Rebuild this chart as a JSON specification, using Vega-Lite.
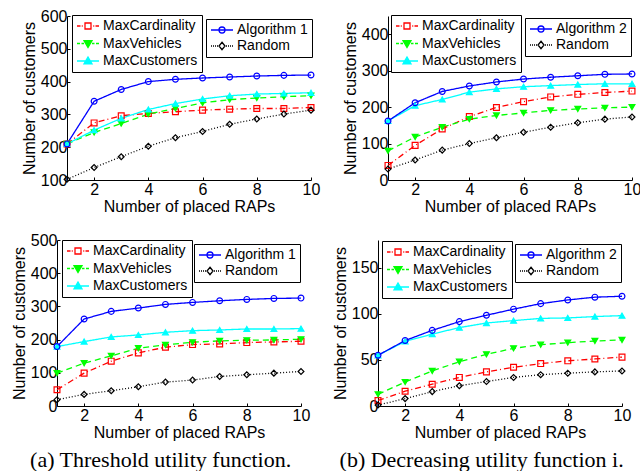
{
"$schema":"https://vega.github.io/schema/vega-lite/v6.json",
"background":"white",
"padding":{"left":11,"top":8,"right":0,"bottom":0},
"datasets":{"d":[
{"p":"a","s":"MaxCardinality","x":1,"y":210},{"p":"a","s":"MaxCardinality","x":2,"y":274},{"p":"a","s":"MaxCardinality","x":3,"y":296},{"p":"a","s":"MaxCardinality","x":4,"y":303},{"p":"a","s":"MaxCardinality","x":5,"y":308},{"p":"a","s":"MaxCardinality","x":6,"y":313},{"p":"a","s":"MaxCardinality","x":7,"y":316},{"p":"a","s":"MaxCardinality","x":8,"y":318},{"p":"a","s":"MaxCardinality","x":9,"y":318},{"p":"a","s":"MaxCardinality","x":10,"y":321},
{"p":"a","s":"MaxVehicles","x":1,"y":210},{"p":"a","s":"MaxVehicles","x":2,"y":245},{"p":"a","s":"MaxVehicles","x":3,"y":272},{"p":"a","s":"MaxVehicles","x":4,"y":301},{"p":"a","s":"MaxVehicles","x":5,"y":318},{"p":"a","s":"MaxVehicles","x":6,"y":335},{"p":"a","s":"MaxVehicles","x":7,"y":345},{"p":"a","s":"MaxVehicles","x":8,"y":350},{"p":"a","s":"MaxVehicles","x":9,"y":354},{"p":"a","s":"MaxVehicles","x":10,"y":357},
{"p":"a","s":"MaxCustomers","x":1,"y":210},{"p":"a","s":"MaxCustomers","x":2,"y":252},{"p":"a","s":"MaxCustomers","x":3,"y":288},{"p":"a","s":"MaxCustomers","x":4,"y":315},{"p":"a","s":"MaxCustomers","x":5,"y":333},{"p":"a","s":"MaxCustomers","x":6,"y":347},{"p":"a","s":"MaxCustomers","x":7,"y":357},{"p":"a","s":"MaxCustomers","x":8,"y":362},{"p":"a","s":"MaxCustomers","x":9,"y":364},{"p":"a","s":"MaxCustomers","x":10,"y":366},
{"p":"a","s":"Algorithm 1","x":1,"y":210},{"p":"a","s":"Algorithm 1","x":2,"y":340},{"p":"a","s":"Algorithm 1","x":3,"y":376},{"p":"a","s":"Algorithm 1","x":4,"y":400},{"p":"a","s":"Algorithm 1","x":5,"y":407},{"p":"a","s":"Algorithm 1","x":6,"y":411},{"p":"a","s":"Algorithm 1","x":7,"y":414},{"p":"a","s":"Algorithm 1","x":8,"y":417},{"p":"a","s":"Algorithm 1","x":9,"y":419},{"p":"a","s":"Algorithm 1","x":10,"y":420},
{"p":"a","s":"Random","x":1,"y":102},{"p":"a","s":"Random","x":2,"y":138},{"p":"a","s":"Random","x":3,"y":171},{"p":"a","s":"Random","x":4,"y":203},{"p":"a","s":"Random","x":5,"y":229},{"p":"a","s":"Random","x":6,"y":248},{"p":"a","s":"Random","x":7,"y":270},{"p":"a","s":"Random","x":8,"y":286},{"p":"a","s":"Random","x":9,"y":301},{"p":"a","s":"Random","x":10,"y":313},
{"p":"b","s":"MaxCardinality","x":1,"y":40},{"p":"b","s":"MaxCardinality","x":2,"y":95},{"p":"b","s":"MaxCardinality","x":3,"y":140},{"p":"b","s":"MaxCardinality","x":4,"y":174},{"p":"b","s":"MaxCardinality","x":5,"y":199},{"p":"b","s":"MaxCardinality","x":6,"y":215},{"p":"b","s":"MaxCardinality","x":7,"y":228},{"p":"b","s":"MaxCardinality","x":8,"y":235},{"p":"b","s":"MaxCardinality","x":9,"y":240},{"p":"b","s":"MaxCardinality","x":10,"y":244},
{"p":"b","s":"MaxVehicles","x":1,"y":80},{"p":"b","s":"MaxVehicles","x":2,"y":118},{"p":"b","s":"MaxVehicles","x":3,"y":145},{"p":"b","s":"MaxVehicles","x":4,"y":167},{"p":"b","s":"MaxVehicles","x":5,"y":177},{"p":"b","s":"MaxVehicles","x":6,"y":184},{"p":"b","s":"MaxVehicles","x":7,"y":191},{"p":"b","s":"MaxVehicles","x":8,"y":195},{"p":"b","s":"MaxVehicles","x":9,"y":198},{"p":"b","s":"MaxVehicles","x":10,"y":200},
{"p":"b","s":"MaxCustomers","x":1,"y":162},{"p":"b","s":"MaxCustomers","x":2,"y":204},{"p":"b","s":"MaxCustomers","x":3,"y":221},{"p":"b","s":"MaxCustomers","x":4,"y":241},{"p":"b","s":"MaxCustomers","x":5,"y":250},{"p":"b","s":"MaxCustomers","x":6,"y":256},{"p":"b","s":"MaxCustomers","x":7,"y":259},{"p":"b","s":"MaxCustomers","x":8,"y":262},{"p":"b","s":"MaxCustomers","x":9,"y":264},{"p":"b","s":"MaxCustomers","x":10,"y":264},
{"p":"b","s":"Algorithm 2","x":1,"y":162},{"p":"b","s":"Algorithm 2","x":2,"y":212},{"p":"b","s":"Algorithm 2","x":3,"y":243},{"p":"b","s":"Algorithm 2","x":4,"y":258},{"p":"b","s":"Algorithm 2","x":5,"y":269},{"p":"b","s":"Algorithm 2","x":6,"y":277},{"p":"b","s":"Algorithm 2","x":7,"y":282},{"p":"b","s":"Algorithm 2","x":8,"y":286},{"p":"b","s":"Algorithm 2","x":9,"y":290},{"p":"b","s":"Algorithm 2","x":10,"y":291},
{"p":"b","s":"Random","x":1,"y":30},{"p":"b","s":"Random","x":2,"y":55},{"p":"b","s":"Random","x":3,"y":82},{"p":"b","s":"Random","x":4,"y":100},{"p":"b","s":"Random","x":5,"y":116},{"p":"b","s":"Random","x":6,"y":131},{"p":"b","s":"Random","x":7,"y":145},{"p":"b","s":"Random","x":8,"y":157},{"p":"b","s":"Random","x":9,"y":167},{"p":"b","s":"Random","x":10,"y":173},
{"p":"c","s":"MaxCardinality","x":1,"y":49},{"p":"c","s":"MaxCardinality","x":2,"y":99},{"p":"c","s":"MaxCardinality","x":3,"y":135},{"p":"c","s":"MaxCardinality","x":4,"y":160},{"p":"c","s":"MaxCardinality","x":5,"y":177},{"p":"c","s":"MaxCardinality","x":6,"y":185},{"p":"c","s":"MaxCardinality","x":7,"y":187},{"p":"c","s":"MaxCardinality","x":8,"y":191},{"p":"c","s":"MaxCardinality","x":9,"y":193},{"p":"c","s":"MaxCardinality","x":10,"y":195},
{"p":"c","s":"MaxVehicles","x":1,"y":99},{"p":"c","s":"MaxVehicles","x":2,"y":129},{"p":"c","s":"MaxVehicles","x":3,"y":151},{"p":"c","s":"MaxVehicles","x":4,"y":174},{"p":"c","s":"MaxVehicles","x":5,"y":184},{"p":"c","s":"MaxVehicles","x":6,"y":192},{"p":"c","s":"MaxVehicles","x":7,"y":196},{"p":"c","s":"MaxVehicles","x":8,"y":198},{"p":"c","s":"MaxVehicles","x":9,"y":199},{"p":"c","s":"MaxVehicles","x":10,"y":201},
{"p":"c","s":"MaxCustomers","x":1,"y":179},{"p":"c","s":"MaxCustomers","x":2,"y":194},{"p":"c","s":"MaxCustomers","x":3,"y":208},{"p":"c","s":"MaxCustomers","x":4,"y":214},{"p":"c","s":"MaxCustomers","x":5,"y":222},{"p":"c","s":"MaxCustomers","x":6,"y":227},{"p":"c","s":"MaxCustomers","x":7,"y":229},{"p":"c","s":"MaxCustomers","x":8,"y":232},{"p":"c","s":"MaxCustomers","x":9,"y":232},{"p":"c","s":"MaxCustomers","x":10,"y":233},
{"p":"c","s":"Algorithm 1","x":1,"y":179},{"p":"c","s":"Algorithm 1","x":2,"y":262},{"p":"c","s":"Algorithm 1","x":3,"y":285},{"p":"c","s":"Algorithm 1","x":4,"y":295},{"p":"c","s":"Algorithm 1","x":5,"y":306},{"p":"c","s":"Algorithm 1","x":6,"y":312},{"p":"c","s":"Algorithm 1","x":7,"y":317},{"p":"c","s":"Algorithm 1","x":8,"y":321},{"p":"c","s":"Algorithm 1","x":9,"y":324},{"p":"c","s":"Algorithm 1","x":10,"y":325},
{"p":"c","s":"Random","x":1,"y":19},{"p":"c","s":"Random","x":2,"y":35},{"p":"c","s":"Random","x":3,"y":46},{"p":"c","s":"Random","x":4,"y":58},{"p":"c","s":"Random","x":5,"y":72},{"p":"c","s":"Random","x":6,"y":78},{"p":"c","s":"Random","x":7,"y":89},{"p":"c","s":"Random","x":8,"y":94},{"p":"c","s":"Random","x":9,"y":99},{"p":"c","s":"Random","x":10,"y":104},
{"p":"d","s":"MaxCardinality","x":1,"y":6},{"p":"d","s":"MaxCardinality","x":2,"y":16},{"p":"d","s":"MaxCardinality","x":3,"y":23.6},{"p":"d","s":"MaxCardinality","x":4,"y":31},{"p":"d","s":"MaxCardinality","x":5,"y":37},{"p":"d","s":"MaxCardinality","x":6,"y":42},{"p":"d","s":"MaxCardinality","x":7,"y":46},{"p":"d","s":"MaxCardinality","x":8,"y":49},{"p":"d","s":"MaxCardinality","x":9,"y":51},{"p":"d","s":"MaxCardinality","x":10,"y":53},
{"p":"d","s":"MaxVehicles","x":1,"y":12.7},{"p":"d","s":"MaxVehicles","x":2,"y":26},{"p":"d","s":"MaxVehicles","x":3,"y":38},{"p":"d","s":"MaxVehicles","x":4,"y":48},{"p":"d","s":"MaxVehicles","x":5,"y":56},{"p":"d","s":"MaxVehicles","x":6,"y":62.5},{"p":"d","s":"MaxVehicles","x":7,"y":66.5},{"p":"d","s":"MaxVehicles","x":8,"y":68.7},{"p":"d","s":"MaxVehicles","x":9,"y":70.5},{"p":"d","s":"MaxVehicles","x":10,"y":71.6},
{"p":"d","s":"MaxCustomers","x":1,"y":55},{"p":"d","s":"MaxCustomers","x":2,"y":70},{"p":"d","s":"MaxCustomers","x":3,"y":78},{"p":"d","s":"MaxCustomers","x":4,"y":85},{"p":"d","s":"MaxCustomers","x":5,"y":90},{"p":"d","s":"MaxCustomers","x":6,"y":92.6},{"p":"d","s":"MaxCustomers","x":7,"y":95},{"p":"d","s":"MaxCustomers","x":8,"y":95.5},{"p":"d","s":"MaxCustomers","x":9,"y":97},{"p":"d","s":"MaxCustomers","x":10,"y":98},
{"p":"d","s":"Algorithm 2","x":1,"y":55},{"p":"d","s":"Algorithm 2","x":2,"y":71},{"p":"d","s":"Algorithm 2","x":3,"y":82},{"p":"d","s":"Algorithm 2","x":4,"y":91.5},{"p":"d","s":"Algorithm 2","x":5,"y":98.4},{"p":"d","s":"Algorithm 2","x":6,"y":105},{"p":"d","s":"Algorithm 2","x":7,"y":111},{"p":"d","s":"Algorithm 2","x":8,"y":115},{"p":"d","s":"Algorithm 2","x":9,"y":118},{"p":"d","s":"Algorithm 2","x":10,"y":119},
{"p":"d","s":"Random","x":1,"y":1},{"p":"d","s":"Random","x":2,"y":8},{"p":"d","s":"Random","x":3,"y":15.6},{"p":"d","s":"Random","x":4,"y":22},{"p":"d","s":"Random","x":5,"y":26.5},{"p":"d","s":"Random","x":6,"y":31},{"p":"d","s":"Random","x":7,"y":34},{"p":"d","s":"Random","x":8,"y":35.6},{"p":"d","s":"Random","x":9,"y":37},{"p":"d","s":"Random","x":10,"y":38}
]},
"data":{"name":"d"},
"spacing":18,
"vconcat":[
{"spacing":-53,"hconcat":[
{"width":10,"height":10,"transform":[{"filter":"datum.x < 0"}],"mark":{"type":"point"},"encoding":{}},
{"spacing":22,"hconcat":[
{"width":244,"height":164,
 "transform":[{"filter":"datum.p === 'a'"}],
 "encoding":{
  "x":{"field":"x","type":"quantitative","scale":{"domain":[1,10],"nice":false,"zero":false},"axis":{"values":[2,4,6,8,10],"title":"Number of placed RAPs"}},
  "y":{"field":"y","type":"quantitative","scale":{"domain":[100,600],"nice":false,"zero":false},"axis":{"values":[100,200,300,400,500,600],"title":"Number of customers"}}},
 "layer":[
  {"mark":{"type":"line","strokeWidth":1.3},
   "encoding":{
    "stroke":{"field":"s","type":"nominal","scale":{"domain":["MaxCardinality","MaxVehicles","MaxCustomers","Algorithm 1","Random"],"range":["#ff0000","#00ff00","#00ffff","#0000ff","#000000"]},"legend":null},
    "strokeDash":{"field":"s","type":"nominal","scale":{"domain":["MaxCardinality","MaxVehicles","MaxCustomers","Algorithm 1","Random"],"range":[[6,3,1,3],[6,4],[1,0],[1,0],[1,2]]},"legend":null}}},
  {"mark":{"type":"point","size":34,"strokeWidth":1.2,"opacity":1},
   "encoding":{
    "stroke":{"field":"s","type":"nominal","scale":{"domain":["MaxCardinality","MaxVehicles","MaxCustomers","Algorithm 1","Random"],"range":["#ff0000","#00ff00","#00ffff","#0000ff","#000000"]},"legend":null},
    "fill":{"field":"s","type":"nominal","scale":{"domain":["MaxCardinality","MaxVehicles","MaxCustomers","Algorithm 1","Random"],"range":["transparent","#00ff00","#00ffff","transparent","transparent"]},"legend":null},
    "shape":{"field":"s","type":"nominal","scale":{"domain":["MaxCardinality","MaxVehicles","MaxCustomers","Algorithm 1","Random"],"range":["square","triangle-down","triangle-up","circle","diamond"]},"legend":null}}},
  {"transform":[{"filter":"datum.x < 0"}],
   "mark":{"type":"point","opacity":1},
   "encoding":{
    "stroke":{"field":"s","type":"nominal","scale":{"domain":["MaxCardinality","MaxVehicles","MaxCustomers"],"range":["#ff0000","#00ff00","#00ffff"]},"legend":{"orient":"none","legendX":5,"legendY":-1,"rowPadding":3.5,"title":null,"padding":4,"symbolSize":100,"symbolOffset":5,"labelOffset":8,"labelFont":"Liberation Sans","labelFontSize":14,"labelColor":"#000","symbolStrokeWidth":1.3,"strokeColor":"#000","fillColor":"#fff"}},
    "fill":{"field":"s","type":"nominal","scale":{"domain":["MaxCardinality","MaxVehicles","MaxCustomers"],"range":["transparent","#00ff00","#00ffff"]},"legend":{"orient":"none","legendX":5,"legendY":-1,"rowPadding":3.5,"title":null,"padding":4,"symbolSize":100,"symbolOffset":5,"labelOffset":8,"labelFont":"Liberation Sans","labelFontSize":14,"labelColor":"#000","symbolStrokeWidth":1.3,"strokeColor":"#000","fillColor":"#fff"}},
    "shape":{"field":"s","type":"nominal","scale":{"domain":["MaxCardinality","MaxVehicles","MaxCustomers"],"range":["M-2.2,0H-1.5M-1.25,0H-1.05M1.05,0H1.25M1.5,0H2.2M-0.6,-0.6H0.6V0.6H-0.6Z","M-2.2,0H-1.6M-1.3,0H-0.8M0.8,0H1.3M1.6,0H2.2M-0.8,-0.55H0.8L0,0.8Z","M-2.2,0H2.2M-0.8,0.55H0.8L0,-0.8Z"]},"legend":{"orient":"none","legendX":5,"legendY":-1,"rowPadding":3.5,"title":null,"padding":4,"symbolSize":100,"symbolOffset":5,"labelOffset":8,"labelFont":"Liberation Sans","labelFontSize":14,"labelColor":"#000","symbolStrokeWidth":1.3,"strokeColor":"#000","fillColor":"#fff"}}}},
  {"transform":[{"filter":"datum.x < 0"}],
   "mark":{"type":"point","opacity":1},
   "encoding":{
    "stroke":{"field":"s","type":"nominal","scale":{"domain":["Algorithm 1","Random"],"range":["#0000ff","#000000"]},"legend":{"orient":"none","legendX":139,"legendY":3,"rowPadding":2,"title":null,"padding":4,"symbolSize":100,"symbolOffset":5,"labelOffset":8,"labelFont":"Liberation Sans","labelFontSize":14,"labelColor":"#000","symbolStrokeWidth":1.3,"strokeColor":"#000","fillColor":"#fff"}},
    "fill":{"field":"s","type":"nominal","scale":{"domain":["Algorithm 1","Random"],"range":["transparent","transparent"]},"legend":{"orient":"none","legendX":139,"legendY":3,"rowPadding":2,"title":null,"padding":4,"symbolSize":100,"symbolOffset":5,"labelOffset":8,"labelFont":"Liberation Sans","labelFontSize":14,"labelColor":"#000","symbolStrokeWidth":1.3,"strokeColor":"#000","fillColor":"#fff"}},
    "shape":{"field":"s","type":"nominal","scale":{"domain":["Algorithm 1","Random"],"range":["M-2.2,0H2.2M-0.6,0A0.6,0.6,0,1,0,0.6,0A0.6,0.6,0,1,0,-0.6,0Z","M-2.2,0H-2M-1.8,0H-1.6M-1.4,0H-1.2M-1,0H-0.8M0.8,0H1M1.2,0H1.4M1.6,0H1.8M2,0H2.2M0,-0.75L0.6,0L0,0.75L-0.6,0Z"]},"legend":{"orient":"none","legendX":139,"legendY":3,"rowPadding":2,"title":null,"padding":4,"symbolSize":100,"symbolOffset":5,"labelOffset":8,"labelFont":"Liberation Sans","labelFontSize":14,"labelColor":"#000","symbolStrokeWidth":1.3,"strokeColor":"#000","fillColor":"#fff"}}}}
 ],
 "resolve":{"scale":{"stroke":"independent","fill":"independent","shape":"independent","strokeDash":"independent"}}},
{"width":244,"height":164,
 "transform":[{"filter":"datum.p === 'b'"}],
 "encoding":{
  "x":{"field":"x","type":"quantitative","scale":{"domain":[1,10],"nice":false,"zero":false},"axis":{"values":[2,4,6,8,10],"title":"Number of placed RAPs"}},
  "y":{"field":"y","type":"quantitative","scale":{"domain":[0,450],"nice":false,"zero":false},"axis":{"values":[0,100,200,300,400],"title":"Number of customers"}}},
 "layer":[
  {"mark":{"type":"line","strokeWidth":1.3},
   "encoding":{
    "stroke":{"field":"s","type":"nominal","scale":{"domain":["MaxCardinality","MaxVehicles","MaxCustomers","Algorithm 2","Random"],"range":["#ff0000","#00ff00","#00ffff","#0000ff","#000000"]},"legend":null},
    "strokeDash":{"field":"s","type":"nominal","scale":{"domain":["MaxCardinality","MaxVehicles","MaxCustomers","Algorithm 2","Random"],"range":[[6,3,1,3],[6,4],[1,0],[1,0],[1,2]]},"legend":null}}},
  {"mark":{"type":"point","size":34,"strokeWidth":1.2,"opacity":1},
   "encoding":{
    "stroke":{"field":"s","type":"nominal","scale":{"domain":["MaxCardinality","MaxVehicles","MaxCustomers","Algorithm 2","Random"],"range":["#ff0000","#00ff00","#00ffff","#0000ff","#000000"]},"legend":null},
    "fill":{"field":"s","type":"nominal","scale":{"domain":["MaxCardinality","MaxVehicles","MaxCustomers","Algorithm 2","Random"],"range":["transparent","#00ff00","#00ffff","transparent","transparent"]},"legend":null},
    "shape":{"field":"s","type":"nominal","scale":{"domain":["MaxCardinality","MaxVehicles","MaxCustomers","Algorithm 2","Random"],"range":["square","triangle-down","triangle-up","circle","diamond"]},"legend":null}}},
  {"transform":[{"filter":"datum.x < 0"}],
   "mark":{"type":"point","opacity":1},
   "encoding":{
    "stroke":{"field":"s","type":"nominal","scale":{"domain":["MaxCardinality","MaxVehicles","MaxCustomers"],"range":["#ff0000","#00ff00","#00ffff"]},"legend":{"orient":"none","legendX":3,"legendY":-1,"rowPadding":3.5,"title":null,"padding":4,"symbolSize":100,"symbolOffset":5,"labelOffset":8,"labelFont":"Liberation Sans","labelFontSize":14,"labelColor":"#000","symbolStrokeWidth":1.3,"strokeColor":"#000","fillColor":"#fff"}},
    "fill":{"field":"s","type":"nominal","scale":{"domain":["MaxCardinality","MaxVehicles","MaxCustomers"],"range":["transparent","#00ff00","#00ffff"]},"legend":{"orient":"none","legendX":3,"legendY":-1,"rowPadding":3.5,"title":null,"padding":4,"symbolSize":100,"symbolOffset":5,"labelOffset":8,"labelFont":"Liberation Sans","labelFontSize":14,"labelColor":"#000","symbolStrokeWidth":1.3,"strokeColor":"#000","fillColor":"#fff"}},
    "shape":{"field":"s","type":"nominal","scale":{"domain":["MaxCardinality","MaxVehicles","MaxCustomers"],"range":["M-2.2,0H-1.5M-1.25,0H-1.05M1.05,0H1.25M1.5,0H2.2M-0.6,-0.6H0.6V0.6H-0.6Z","M-2.2,0H-1.6M-1.3,0H-0.8M0.8,0H1.3M1.6,0H2.2M-0.8,-0.55H0.8L0,0.8Z","M-2.2,0H2.2M-0.8,0.55H0.8L0,-0.8Z"]},"legend":{"orient":"none","legendX":3,"legendY":-1,"rowPadding":3.5,"title":null,"padding":4,"symbolSize":100,"symbolOffset":5,"labelOffset":8,"labelFont":"Liberation Sans","labelFontSize":14,"labelColor":"#000","symbolStrokeWidth":1.3,"strokeColor":"#000","fillColor":"#fff"}}}},
  {"transform":[{"filter":"datum.x < 0"}],
   "mark":{"type":"point","opacity":1},
   "encoding":{
    "stroke":{"field":"s","type":"nominal","scale":{"domain":["Algorithm 2","Random"],"range":["#0000ff","#000000"]},"legend":{"orient":"none","legendX":137,"legendY":2,"rowPadding":2,"title":null,"padding":4,"symbolSize":100,"symbolOffset":5,"labelOffset":8,"labelFont":"Liberation Sans","labelFontSize":14,"labelColor":"#000","symbolStrokeWidth":1.3,"strokeColor":"#000","fillColor":"#fff"}},
    "fill":{"field":"s","type":"nominal","scale":{"domain":["Algorithm 2","Random"],"range":["transparent","transparent"]},"legend":{"orient":"none","legendX":137,"legendY":2,"rowPadding":2,"title":null,"padding":4,"symbolSize":100,"symbolOffset":5,"labelOffset":8,"labelFont":"Liberation Sans","labelFontSize":14,"labelColor":"#000","symbolStrokeWidth":1.3,"strokeColor":"#000","fillColor":"#fff"}},
    "shape":{"field":"s","type":"nominal","scale":{"domain":["Algorithm 2","Random"],"range":["M-2.2,0H2.2M-0.6,0A0.6,0.6,0,1,0,0.6,0A0.6,0.6,0,1,0,-0.6,0Z","M-2.2,0H-2M-1.8,0H-1.6M-1.4,0H-1.2M-1,0H-0.8M0.8,0H1M1.2,0H1.4M1.6,0H1.8M2,0H2.2M0,-0.75L0.6,0L0,0.75L-0.6,0Z"]},"legend":{"orient":"none","legendX":137,"legendY":2,"rowPadding":2,"title":null,"padding":4,"symbolSize":100,"symbolOffset":5,"labelOffset":8,"labelFont":"Liberation Sans","labelFontSize":14,"labelColor":"#000","symbolStrokeWidth":1.3,"strokeColor":"#000","fillColor":"#fff"}}}}
 ],
 "resolve":{"scale":{"stroke":"independent","fill":"independent","shape":"independent","strokeDash":"independent"}}}
]}]},
{"spacing":22,"hconcat":[
{"width":244,"height":166,
 "title":{"text":"(a) Threshold utility function.","orient":"bottom","anchor":"middle","frame":"bounds"},
 "transform":[{"filter":"datum.p === 'c'"}],
 "encoding":{
  "x":{"field":"x","type":"quantitative","scale":{"domain":[1,10],"nice":false,"zero":false},"axis":{"values":[2,4,6,8,10],"title":"Number of placed RAPs"}},
  "y":{"field":"y","type":"quantitative","scale":{"domain":[0,500],"nice":false,"zero":false},"axis":{"values":[0,100,200,300,400,500],"title":"Number of customers"}}},
 "layer":[
  {"mark":{"type":"line","strokeWidth":1.3},
   "encoding":{
    "stroke":{"field":"s","type":"nominal","scale":{"domain":["MaxCardinality","MaxVehicles","MaxCustomers","Algorithm 1","Random"],"range":["#ff0000","#00ff00","#00ffff","#0000ff","#000000"]},"legend":null},
    "strokeDash":{"field":"s","type":"nominal","scale":{"domain":["MaxCardinality","MaxVehicles","MaxCustomers","Algorithm 1","Random"],"range":[[6,3,1,3],[6,4],[1,0],[1,0],[1,2]]},"legend":null}}},
  {"mark":{"type":"point","size":34,"strokeWidth":1.2,"opacity":1},
   "encoding":{
    "stroke":{"field":"s","type":"nominal","scale":{"domain":["MaxCardinality","MaxVehicles","MaxCustomers","Algorithm 1","Random"],"range":["#ff0000","#00ff00","#00ffff","#0000ff","#000000"]},"legend":null},
    "fill":{"field":"s","type":"nominal","scale":{"domain":["MaxCardinality","MaxVehicles","MaxCustomers","Algorithm 1","Random"],"range":["transparent","#00ff00","#00ffff","transparent","transparent"]},"legend":null},
    "shape":{"field":"s","type":"nominal","scale":{"domain":["MaxCardinality","MaxVehicles","MaxCustomers","Algorithm 1","Random"],"range":["square","triangle-down","triangle-up","circle","diamond"]},"legend":null}}},
  {"transform":[{"filter":"datum.x < 0"}],
   "mark":{"type":"point","opacity":1},
   "encoding":{
    "stroke":{"field":"s","type":"nominal","scale":{"domain":["MaxCardinality","MaxVehicles","MaxCustomers"],"range":["#ff0000","#00ff00","#00ffff"]},"legend":{"orient":"none","legendX":5,"legendY":0,"rowPadding":3.5,"title":null,"padding":4,"symbolSize":100,"symbolOffset":5,"labelOffset":8,"labelFont":"Liberation Sans","labelFontSize":14,"labelColor":"#000","symbolStrokeWidth":1.3,"strokeColor":"#000","fillColor":"#fff"}},
    "fill":{"field":"s","type":"nominal","scale":{"domain":["MaxCardinality","MaxVehicles","MaxCustomers"],"range":["transparent","#00ff00","#00ffff"]},"legend":{"orient":"none","legendX":5,"legendY":0,"rowPadding":3.5,"title":null,"padding":4,"symbolSize":100,"symbolOffset":5,"labelOffset":8,"labelFont":"Liberation Sans","labelFontSize":14,"labelColor":"#000","symbolStrokeWidth":1.3,"strokeColor":"#000","fillColor":"#fff"}},
    "shape":{"field":"s","type":"nominal","scale":{"domain":["MaxCardinality","MaxVehicles","MaxCustomers"],"range":["M-2.2,0H-1.5M-1.25,0H-1.05M1.05,0H1.25M1.5,0H2.2M-0.6,-0.6H0.6V0.6H-0.6Z","M-2.2,0H-1.6M-1.3,0H-0.8M0.8,0H1.3M1.6,0H2.2M-0.8,-0.55H0.8L0,0.8Z","M-2.2,0H2.2M-0.8,0.55H0.8L0,-0.8Z"]},"legend":{"orient":"none","legendX":5,"legendY":0,"rowPadding":3.5,"title":null,"padding":4,"symbolSize":100,"symbolOffset":5,"labelOffset":8,"labelFont":"Liberation Sans","labelFontSize":14,"labelColor":"#000","symbolStrokeWidth":1.3,"strokeColor":"#000","fillColor":"#fff"}}}},
  {"transform":[{"filter":"datum.x < 0"}],
   "mark":{"type":"point","opacity":1},
   "encoding":{
    "stroke":{"field":"s","type":"nominal","scale":{"domain":["Algorithm 1","Random"],"range":["#0000ff","#000000"]},"legend":{"orient":"none","legendX":137,"legendY":4,"rowPadding":2,"title":null,"padding":4,"symbolSize":100,"symbolOffset":5,"labelOffset":8,"labelFont":"Liberation Sans","labelFontSize":14,"labelColor":"#000","symbolStrokeWidth":1.3,"strokeColor":"#000","fillColor":"#fff"}},
    "fill":{"field":"s","type":"nominal","scale":{"domain":["Algorithm 1","Random"],"range":["transparent","transparent"]},"legend":{"orient":"none","legendX":137,"legendY":4,"rowPadding":2,"title":null,"padding":4,"symbolSize":100,"symbolOffset":5,"labelOffset":8,"labelFont":"Liberation Sans","labelFontSize":14,"labelColor":"#000","symbolStrokeWidth":1.3,"strokeColor":"#000","fillColor":"#fff"}},
    "shape":{"field":"s","type":"nominal","scale":{"domain":["Algorithm 1","Random"],"range":["M-2.2,0H2.2M-0.6,0A0.6,0.6,0,1,0,0.6,0A0.6,0.6,0,1,0,-0.6,0Z","M-2.2,0H-2M-1.8,0H-1.6M-1.4,0H-1.2M-1,0H-0.8M0.8,0H1M1.2,0H1.4M1.6,0H1.8M2,0H2.2M0,-0.75L0.6,0L0,0.75L-0.6,0Z"]},"legend":{"orient":"none","legendX":137,"legendY":4,"rowPadding":2,"title":null,"padding":4,"symbolSize":100,"symbolOffset":5,"labelOffset":8,"labelFont":"Liberation Sans","labelFontSize":14,"labelColor":"#000","symbolStrokeWidth":1.3,"strokeColor":"#000","fillColor":"#fff"}}}}
 ],
 "resolve":{"scale":{"stroke":"independent","fill":"independent","shape":"independent","strokeDash":"independent"}}},
{"width":244,"height":166,
 "title":{"text":"(b) Decreasing utility function i.","orient":"bottom","anchor":"middle","frame":"bounds"},
 "transform":[{"filter":"datum.p === 'd'"}],
 "encoding":{
  "x":{"field":"x","type":"quantitative","scale":{"domain":[1,10],"nice":false,"zero":false},"axis":{"values":[2,4,6,8,10],"title":"Number of placed RAPs"}},
  "y":{"field":"y","type":"quantitative","scale":{"domain":[0,180],"nice":false,"zero":false},"axis":{"values":[0,50,100,150],"title":"Number of customers"}}},
 "layer":[
  {"mark":{"type":"line","strokeWidth":1.3},
   "encoding":{
    "stroke":{"field":"s","type":"nominal","scale":{"domain":["MaxCardinality","MaxVehicles","MaxCustomers","Algorithm 2","Random"],"range":["#ff0000","#00ff00","#00ffff","#0000ff","#000000"]},"legend":null},
    "strokeDash":{"field":"s","type":"nominal","scale":{"domain":["MaxCardinality","MaxVehicles","MaxCustomers","Algorithm 2","Random"],"range":[[6,3,1,3],[6,4],[1,0],[1,0],[1,2]]},"legend":null}}},
  {"mark":{"type":"point","size":34,"strokeWidth":1.2,"opacity":1},
   "encoding":{
    "stroke":{"field":"s","type":"nominal","scale":{"domain":["MaxCardinality","MaxVehicles","MaxCustomers","Algorithm 2","Random"],"range":["#ff0000","#00ff00","#00ffff","#0000ff","#000000"]},"legend":null},
    "fill":{"field":"s","type":"nominal","scale":{"domain":["MaxCardinality","MaxVehicles","MaxCustomers","Algorithm 2","Random"],"range":["transparent","#00ff00","#00ffff","transparent","transparent"]},"legend":null},
    "shape":{"field":"s","type":"nominal","scale":{"domain":["MaxCardinality","MaxVehicles","MaxCustomers","Algorithm 2","Random"],"range":["square","triangle-down","triangle-up","circle","diamond"]},"legend":null}}},
  {"transform":[{"filter":"datum.x < 0"}],
   "mark":{"type":"point","opacity":1},
   "encoding":{
    "stroke":{"field":"s","type":"nominal","scale":{"domain":["MaxCardinality","MaxVehicles","MaxCustomers"],"range":["#ff0000","#00ff00","#00ffff"]},"legend":{"orient":"none","legendX":4,"legendY":1,"rowPadding":3.5,"title":null,"padding":4,"symbolSize":100,"symbolOffset":5,"labelOffset":8,"labelFont":"Liberation Sans","labelFontSize":14,"labelColor":"#000","symbolStrokeWidth":1.3,"strokeColor":"#000","fillColor":"#fff"}},
    "fill":{"field":"s","type":"nominal","scale":{"domain":["MaxCardinality","MaxVehicles","MaxCustomers"],"range":["transparent","#00ff00","#00ffff"]},"legend":{"orient":"none","legendX":4,"legendY":1,"rowPadding":3.5,"title":null,"padding":4,"symbolSize":100,"symbolOffset":5,"labelOffset":8,"labelFont":"Liberation Sans","labelFontSize":14,"labelColor":"#000","symbolStrokeWidth":1.3,"strokeColor":"#000","fillColor":"#fff"}},
    "shape":{"field":"s","type":"nominal","scale":{"domain":["MaxCardinality","MaxVehicles","MaxCustomers"],"range":["M-2.2,0H-1.5M-1.25,0H-1.05M1.05,0H1.25M1.5,0H2.2M-0.6,-0.6H0.6V0.6H-0.6Z","M-2.2,0H-1.6M-1.3,0H-0.8M0.8,0H1.3M1.6,0H2.2M-0.8,-0.55H0.8L0,0.8Z","M-2.2,0H2.2M-0.8,0.55H0.8L0,-0.8Z"]},"legend":{"orient":"none","legendX":4,"legendY":1,"rowPadding":3.5,"title":null,"padding":4,"symbolSize":100,"symbolOffset":5,"labelOffset":8,"labelFont":"Liberation Sans","labelFontSize":14,"labelColor":"#000","symbolStrokeWidth":1.3,"strokeColor":"#000","fillColor":"#fff"}}}},
  {"transform":[{"filter":"datum.x < 0"}],
   "mark":{"type":"point","opacity":1},
   "encoding":{
    "stroke":{"field":"s","type":"nominal","scale":{"domain":["Algorithm 2","Random"],"range":["#0000ff","#000000"]},"legend":{"orient":"none","legendX":137,"legendY":4,"rowPadding":2,"title":null,"padding":4,"symbolSize":100,"symbolOffset":5,"labelOffset":8,"labelFont":"Liberation Sans","labelFontSize":14,"labelColor":"#000","symbolStrokeWidth":1.3,"strokeColor":"#000","fillColor":"#fff"}},
    "fill":{"field":"s","type":"nominal","scale":{"domain":["Algorithm 2","Random"],"range":["transparent","transparent"]},"legend":{"orient":"none","legendX":137,"legendY":4,"rowPadding":2,"title":null,"padding":4,"symbolSize":100,"symbolOffset":5,"labelOffset":8,"labelFont":"Liberation Sans","labelFontSize":14,"labelColor":"#000","symbolStrokeWidth":1.3,"strokeColor":"#000","fillColor":"#fff"}},
    "shape":{"field":"s","type":"nominal","scale":{"domain":["Algorithm 2","Random"],"range":["M-2.2,0H2.2M-0.6,0A0.6,0.6,0,1,0,0.6,0A0.6,0.6,0,1,0,-0.6,0Z","M-2.2,0H-2M-1.8,0H-1.6M-1.4,0H-1.2M-1,0H-0.8M0.8,0H1M1.2,0H1.4M1.6,0H1.8M2,0H2.2M0,-0.75L0.6,0L0,0.75L-0.6,0Z"]},"legend":{"orient":"none","legendX":137,"legendY":4,"rowPadding":2,"title":null,"padding":4,"symbolSize":100,"symbolOffset":5,"labelOffset":8,"labelFont":"Liberation Sans","labelFontSize":14,"labelColor":"#000","symbolStrokeWidth":1.3,"strokeColor":"#000","fillColor":"#fff"}}}}
 ],
 "resolve":{"scale":{"stroke":"independent","fill":"independent","shape":"independent","strokeDash":"independent"}}}
]}
],
"config":{
 "view":{"stroke":null},
 "font":"Liberation Sans",
 "axis":{"labelFont":"Liberation Sans","labelFontSize":16,"labelColor":"#000","titleFont":"Liberation Sans","titleFontSize":16,"titleFontWeight":"normal","titleColor":"#000","domainColor":"#000","domainWidth":1,"tickColor":"#000","tickSize":-3,"grid":false,"labelPadding":3,"titlePadding":1,"labelFlush":false,"labelOverlap":false},
 "axisX":{"labelPadding":4},
 "axisY":{"titlePadding":3},
 "legend":{"strokeColor":"#000","fillColor":"#fff","strokeWidth":1},
 "title":{"font":"Liberation Serif","fontSize":22,"fontWeight":"normal","color":"#000","offset":10}
}
}
